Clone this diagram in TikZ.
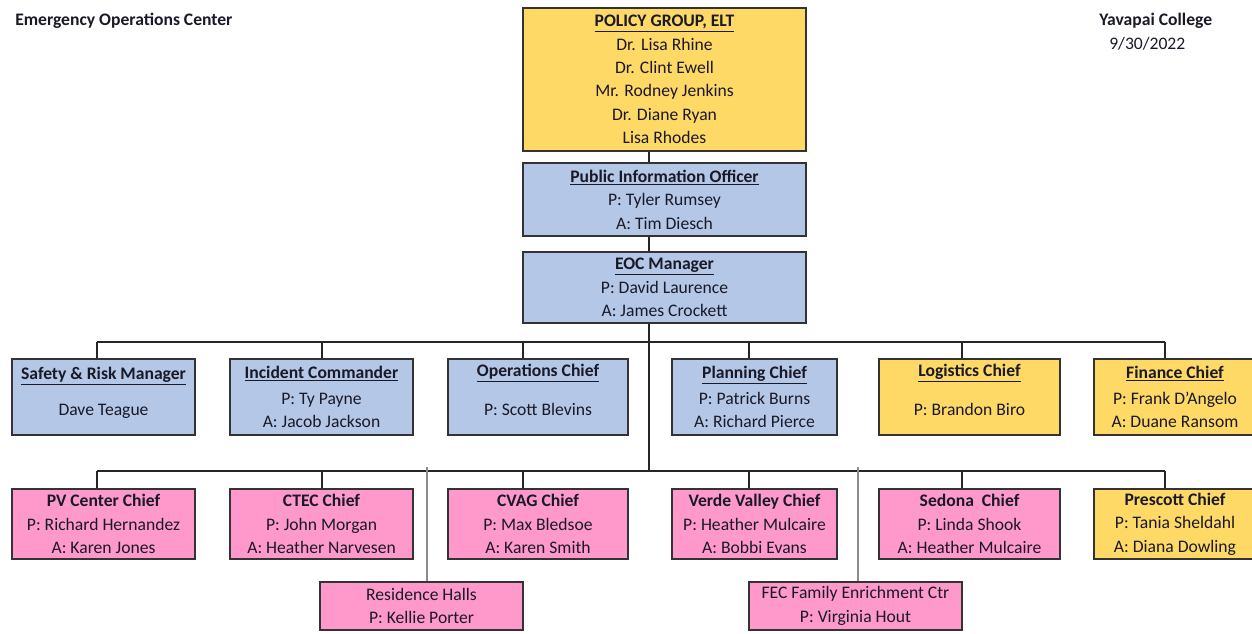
\documentclass[tikz,border=0pt]{standalone}
\usepackage{fontspec}
\setmainfont{Carlito}
\definecolor{boxblue}{RGB}{180,199,231}
\definecolor{boxgold}{RGB}{255,217,102}
\definecolor{boxpink}{RGB}{255,153,204}
\definecolor{inkcol}{RGB}{25,25,40}
\begin{document}
\begin{tikzpicture}[x=0.75pt, y=-0.75pt,
  role/.style={draw=black!80, line width=0.9pt, align=center, inner sep=0pt, text=inkcol, font=\fontsize{13.2}{17.6}\selectfont},
  hdr/.style={anchor=west, inner sep=0pt, text=inkcol, font=\fontsize{13.2}{17.6}\selectfont},
  link/.style={line width=1.1pt, black!85},
  sublink/.style={line width=1.1pt, black!45}]
\useasboundingbox (0,0) rectangle (1252,633);
\node[hdr] (hdr0) at (15,21){\textbf{Emergency Operations Center}};
\node[hdr] (hdr1) at (1099,21){\textbf{Yavapai College}};
\node[hdr] (hdr2) at (1109,44){9/30/2022};
\coordinate (trunk) at (649,471);
\node[role, fill=boxgold, minimum width=212.25pt, minimum height=107.25pt] (role0) at (664.5,79.5){\underline{\textbf{POLICY GROUP, ELT}}\\Dr. Lisa Rhine\\Dr. Clint Ewell\\Mr. Rodney Jenkins\\Dr. Diane Ryan\\Lisa Rhodes};
\node[role, fill=boxblue, minimum width=212.25pt, minimum height=54.75pt] (role1) at (664.5,199.5){\underline{\textbf{Public Information Officer}}\\P: Tyler Rumsey\\A: Tim Diesch};
\draw[link](role0.south -| trunk) -- (role1.north -| trunk);
\node[role, fill=boxblue, minimum width=212.25pt, minimum height=53.25pt] (role2) at (664.5,287.5){\underline{\textbf{EOC Manager}}\\P: David Laurence\\A: James Crockett};
\draw[link](role1.south -| trunk) -- (role2.north -| trunk);
\draw[link](role2.south -| trunk) -- (trunk);
% first row
\coordinate (j0) at (97,342);
\coordinate (j1) at (322,342);
\coordinate (j2) at (523,342);
\coordinate (j3) at (749,342);
\coordinate (j4) at (962,342);
\coordinate (j5) at (1165,342);
\draw[link](j0) -- (j5);
\node[role, fill=boxblue, minimum width=137.25pt, minimum height=57pt, text depth=8.6pt] (role3) at (103.5,397){\underline{\textbf{Safety \& Risk Manager}}\\[9pt]Dave Teague};
\draw[link](j0) -- (j0 |- role3.north);
\node[role, fill=boxblue, minimum width=137.25pt, minimum height=57pt] (role4) at (321.5,397){\underline{\textbf{Incident Commander}}\\[2pt]P: Ty Payne\\A: Jacob Jackson};
\draw[link](j1) -- (j1 |- role4.north);
\node[role, fill=boxblue, minimum width=135pt, minimum height=57pt, text depth=11.2pt] (role5) at (538,397){\underline{\textbf{Operations Chief}}\\[11.6pt]P: Scott Blevins};
\draw[link](j2) -- (j2 |- role5.north);
\node[role, fill=boxblue, minimum width=123.75pt, minimum height=57pt] (role6) at (754.5,397){\underline{\textbf{Planning Chief}}\\[2pt]P: Patrick Burns\\A: Richard Pierce};
\draw[link](j3) -- (j3 |- role6.north);
\node[role, fill=boxgold, minimum width=135.75pt, minimum height=57pt, text depth=11.2pt] (role7) at (969.5,397){\underline{\textbf{Logistics Chief}}\\[11.6pt]P: Brandon Biro};
\draw[link](j4) -- (j4 |- role7.north);
\node[role, fill=boxgold, minimum width=121.5pt, minimum height=57pt] (role8) at (1175,397){\underline{\textbf{Finance Chief}}\\[2pt]P: Frank D'Angelo\\A: Duane Ransom};
\draw[link](j5) -- (j5 |- role8.north);
% second row
\coordinate (k0) at (97,471);
\coordinate (k1) at (322,471);
\coordinate (k2) at (523,471);
\coordinate (k3) at (749,471);
\coordinate (k4) at (962,471);
\coordinate (k5) at (1165,471);
\draw[link](k0) -- (k5);
\node[role, fill=boxpink, minimum width=137.25pt, minimum height=52.5pt] (role9) at (103.5,524){\textbf{PV Center Chief}\\P: Richard Hernandez\\A: Karen Jones};
\draw[link](k0) -- (k0 |- role9.north);
\node[role, fill=boxpink, minimum width=137.25pt, minimum height=52.5pt] (role10) at (321.5,524){\textbf{CTEC Chief}\\P: John Morgan\\A: Heather Narvesen};
\draw[link](k1) -- (k1 |- role10.north);
\node[role, fill=boxpink, minimum width=135pt, minimum height=52.5pt] (role11) at (538,524){\textbf{CVAG Chief}\\P: Max Bledsoe\\A: Karen Smith};
\draw[link](k2) -- (k2 |- role11.north);
\node[role, fill=boxpink, minimum width=123.75pt, minimum height=52.5pt] (role12) at (754.5,524){\textbf{Verde Valley Chief}\\P: Heather Mulcaire\\A: Bobbi Evans};
\draw[link](k3) -- (k3 |- role12.north);
\node[role, fill=boxpink, minimum width=135.75pt, minimum height=52.5pt] (role13) at (969.5,524){\textbf{Sedona\ \ Chief}\\P: Linda Shook\\A: Heather Mulcaire};
\draw[link](k4) -- (k4 |- role13.north);
\node[role, fill=boxgold, minimum width=121.5pt, minimum height=52.5pt] (role14) at (1175,524){\textbf{Prescott Chief}\\P: Tania Sheldahl\\A: Diana Dowling};
\draw[link](k5) -- (k5 |- role14.north);
% third row
\coordinate (r0) at (427,467);
\coordinate (r1) at (858,467);
\node[role, fill=boxpink, minimum width=152.25pt, minimum height=36pt] (role15) at (421.5,606){Residence Halls\\P: Kellie Porter};
\draw[sublink](r0) -- (r0 |- role15.north);
\node[role, fill=boxpink, minimum width=159.75pt, minimum height=36pt] (role16) at (855.5,606){FEC Family Enrichment Ctr\\P: Virginia Hout};
\draw[sublink](r1) -- (r1 |- role16.north);
\end{tikzpicture}
\end{document}
